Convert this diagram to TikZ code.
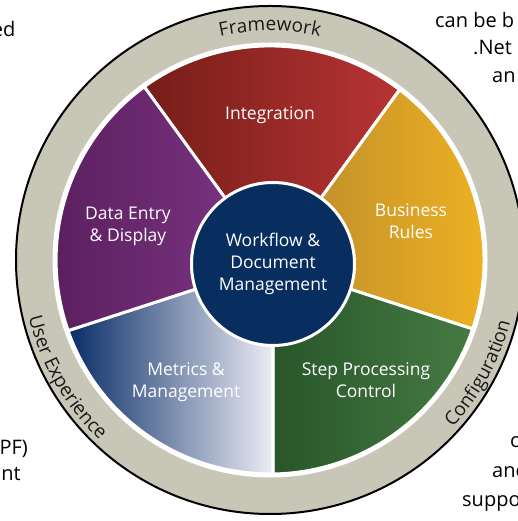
\documentclass[tikz,border=0pt]{standalone}
\usepackage{fontspec}
\setmainfont{Open Sans}
\usetikzlibrary{decorations.text}
\definecolor{ringgray}{RGB}{200,199,183}
\definecolor{ringtext}{RGB}{25,25,25}
\definecolor{intL}{RGB}{118,29,24}
\definecolor{intR}{RGB}{183,52,52}
\definecolor{busL}{RGB}{184,137,44}
\definecolor{busR}{RGB}{242,180,34}
\definecolor{stepL}{RGB}{40,86,42}
\definecolor{stepR}{RGB}{70,122,66}
\definecolor{metL}{RGB}{8,44,102}
\definecolor{metR}{RGB}{236,236,244}
\definecolor{dataL}{RGB}{88,30,92}
\definecolor{dataR}{RGB}{128,54,134}
\definecolor{hubblue}{RGB}{8,46,96}
\tikzset{
  wedge/.style={draw=white, line width=3pt},
  wlabel/.style={text=white, align=center, font=\fontsize{17.5}{22}\selectfont, inner sep=0pt},
  frag/.style={text=black, font=\fontsize{20}{24}\selectfont, inner sep=0pt},
  hubnode/.style={circle, fill=hubblue, draw=white, line width=3pt, minimum size=163pt, inner sep=0pt,
     text=white, align=center, font=\fontsize{17.5}{22}\selectfont}
}
\begin{document}
\begin{tikzpicture}[x=1pt,y=1pt]
\useasboundingbox (0,0) rectangle (518,521);
\clip (0,0) rectangle (518,521);
\coordinate (C) at (270,261);
\coordinate (H) at (273,257);
% outer ring
\fill[ringgray, draw=black, line width=2pt] (C) circle (254);
\fill[white] (C) circle (217.5);
% wedges
\shadedraw[wedge, left color=intL, right color=intR] (H) -- (399.6,431.3) arc[start angle=52.7, end angle=126.0, radius=214] -- cycle;
\shadedraw[wedge, left color=busL, right color=busR] (H) -- (472.6,192.1) arc[start angle=-18.8, end angle=52.7, radius=214] -- cycle;
\shadedraw[wedge, left color=stepL, right color=stepR] (H) -- (273,47) arc[start angle=-89.2, end angle=-18.8, radius=214] -- cycle;
\shadedraw[wedge, left color=metL, right color=metR] (H) -- (68,190.4) arc[start angle=199.3, end angle=270.8, radius=214] -- cycle;
\shadedraw[wedge, left color=dataL, right color=dataR] (H) -- (144.3,434.2) arc[start angle=126.0, end angle=199.3, radius=214] -- cycle;
% hub
\node[hubnode] (hub) at (H) {Workflow \&\\Document\\Management};
% wedge labels
\node[wlabel] (integ) at (270,406) {Integration};
\node[wlabel] (bus) at (411,300) {Business\\Rules};
\node[wlabel] (step) at (366,141) {Step Processing\\Control};
\node[wlabel] (met) at (186,139) {Metrics \&\\Management};
\node[wlabel] (data) at (128,295) {Data Entry\\\& Display};
% ring labels
\path[decorate, decoration={text along path, text align=center,
  text={|\fontsize{19}{19}\selectfont\color{ringtext}|Framework}}]
  (C) ++(125:229) arc[start angle=125, end angle=55, radius=229];
\path[decorate, decoration={text along path, text align=center,
  text={|\fontsize{19}{19}\selectfont\color{ringtext}|User Experience}}]
  (C) ++(175:248) arc[start angle=175, end angle=245, radius=248];
\path[decorate, decoration={text along path, text align=center,
  text={|\fontsize{19}{19}\selectfont\color{ringtext}|Configuration}}]
  (C) ++(-63.5:248) arc[start angle=-63.5, end angle=6.5, radius=248];
% surrounding text fragments
\node[frag, anchor=base east] (f1) at (15.5,484) {ed};
\node[frag, anchor=base west] (f2) at (435,493) {can be b};
\node[frag, anchor=base west] (f3) at (473,466) {.Net};
\node[frag, anchor=base west] (f4) at (492,438) {an};
\node[frag, anchor=base east] (f5) at (28,66) {PF)};
\node[frag, anchor=base east] (f6) at (21,40) {nt};
\node[frag, anchor=base west] (f7) at (510,73) {c};
\node[frag, anchor=base west] (f8) at (492,43) {anc};
\node[frag, anchor=base west] (f9) at (462,14) {suppo};
\end{tikzpicture}
\end{document}
